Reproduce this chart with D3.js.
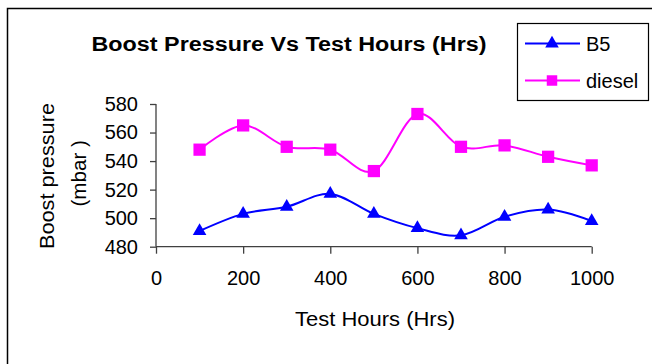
<!DOCTYPE html>
<html>
<head>
<meta charset="utf-8">
<script src="https://cdn.jsdelivr.net/npm/d3@7"></script>
<style>
  html, body { margin: 0; padding: 0; background: #fff; }
  svg { display: block; font-family: Arial, "Liberation Sans", sans-serif; }
</style>
</head>
<body>
<svg id="chart" width="652" height="364"></svg>
<script>
// Test hours at which boost pressure was recorded
const hours = [100, 200, 300, 400, 500, 600, 700, 800, 900, 1000];
// Boost pressure (mbar) for each fuel
const b5 = [491, 503, 508, 517, 503, 493, 488, 501, 506, 498];
const diesel = [548, 565, 550, 548, 533, 573, 550, 551, 543, 537];
const seriesNames = ["B5", "diesel"];
const xTicks = [0, 200, 400, 600, 800, 1000];
const yTicks = [480, 500, 520, 540, 560, 580];

const colors = { B5: "#0000ff", diesel: "#ff00ff" };

const svg = d3.select("#chart");

// outer chart frame
svg.append("rect")
  .attr("x", 7.5).attr("y", 8.5)
  .attr("width", 700).attr("height", 400)
  .attr("fill", "none").attr("stroke", "#000").attr("stroke-width", 1.5);

const x = d3.scaleLinear().domain([0, 1000]).range([156, 591.7]);
const y = d3.scaleLinear().domain([480, 580]).range([246.7, 104]);

// axes
const axisColor = "#404040";
const xAxis = svg.append("g")
  .attr("transform", `translate(0,${y(480)})`)
  .call(d3.axisBottom(x).tickValues(xTicks).tickSize(7).tickPadding(17).tickFormat(d3.format("d")));
const yAxis = svg.append("g")
  .attr("transform", `translate(${x(0)},0)`)
  .call(d3.axisLeft(y).tickValues(yTicks).tickSize(6).tickPadding(12).tickFormat(d3.format("d")));

[xAxis, yAxis].forEach(g => {
  g.select(".domain").attr("stroke", axisColor).attr("stroke-width", 1.3);
  g.selectAll(".tick line").attr("stroke", axisColor).attr("stroke-width", 1.3);
  g.selectAll(".tick text").attr("fill", "#000")
    .style("font-size", "20px").style("font-family", "Arial, 'Liberation Sans', sans-serif");
});
// the x domain path draws outer ticks; keep the axis as a plain line
xAxis.select(".domain").attr("d", `M${x(0)},0H${x(1000)}`);
yAxis.select(".domain").attr("d", `M0,${y(580)}V${y(480)}`);

// smoothed series lines
const line = d3.line()
  .x(d => x(d[0]))
  .y(d => y(d[1]))
  .curve(d3.curveCardinal.tension(0));

const series = [
  { name: "B5", values: b5 },
  { name: "diesel", values: diesel }
];

series.forEach(s => {
  const pts = hours.map((h, i) => [h, s.values[i]]);
  svg.append("path")
    .datum(pts)
    .attr("fill", "none")
    .attr("stroke", colors[s.name])
    .attr("stroke-width", 2)
    .attr("d", line);
});

// markers
const triSym = d3.symbol().type(d3.symbolTriangle).size(80);
const sqSym = d3.symbol().type(d3.symbolSquare).size(150);

svg.append("g").selectAll("path")
  .data(hours.map((h, i) => [h, b5[i]]))
  .join("path")
  .attr("d", triSym)
  .attr("transform", d => `translate(${x(d[0])},${y(d[1])})`)
  .attr("fill", colors.B5);

svg.append("g").selectAll("path")
  .data(hours.map((h, i) => [h, diesel[i]]))
  .join("path")
  .attr("d", sqSym)
  .attr("transform", d => `translate(${x(d[0])},${y(d[1])})`)
  .attr("fill", colors.diesel);

// title
svg.append("text")
  .attr("x", 91.5).attr("y", 50.5)
  .attr("textLength", 395).attr("lengthAdjust", "spacingAndGlyphs")
  .style("font-size", "20px").style("font-weight", "bold")
  .text("Boost Pressure Vs Test Hours (Hrs)");

// axis titles
svg.append("text")
  .attr("x", 295).attr("y", 326)
  .attr("textLength", 160).attr("lengthAdjust", "spacingAndGlyphs")
  .style("font-size", "20px")
  .text("Test Hours (Hrs)");

const yTitle = svg.append("text")
  .attr("transform", "translate(0,0) rotate(-90)")
  .style("font-size", "20px");
yTitle.append("tspan")
  .attr("x", -249).attr("y", 54)
  .attr("textLength", 146).attr("lengthAdjust", "spacingAndGlyphs")
  .text("Boost pressure");
yTitle.append("tspan")
  .attr("x", -206.5).attr("y", 86)
  .attr("textLength", 66.5).attr("lengthAdjust", "spacingAndGlyphs")
  .text("(mbar )");

// legend
const legend = svg.append("g");
legend.append("rect")
  .attr("x", 517.5).attr("y", 23.5)
  .attr("width", 131).attr("height", 77)
  .attr("fill", "#fff").attr("stroke", "#000").attr("stroke-width", 1.2);

const legendRows = [
  { name: seriesNames[0], y: 43.5, sym: triSym },
  { name: seriesNames[1], y: 80.5, sym: d3.symbol().type(d3.symbolSquare).size(110) }
];
legendRows.forEach(r => {
  legend.append("line")
    .attr("x1", 525).attr("x2", 580)
    .attr("y1", r.y).attr("y2", r.y)
    .attr("stroke", colors[r.name]).attr("stroke-width", 2);
  legend.append("path")
    .attr("d", r.sym)
    .attr("transform", `translate(552,${r.y})`)
    .attr("fill", colors[r.name]);
  legend.append("text")
    .attr("x", 586).attr("y", r.y + 7)
    .style("font-size", "20px")
    .text(r.name);
});
</script>
</body>
</html>
